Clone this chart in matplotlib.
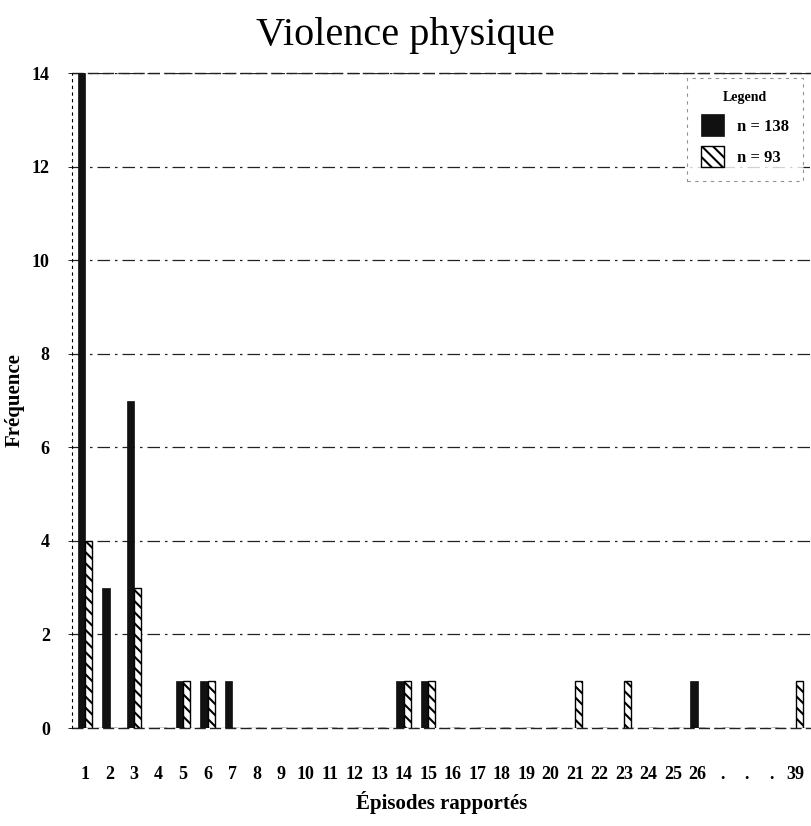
import numpy as np
import matplotlib
matplotlib.use('Agg')
import matplotlib.pyplot as plt

# x categories (episodes reported)
labels = [str(i) for i in range(1, 27)] + ['.', '.', '.', '39']
# frequencies, n = 138 (dark) and n = 93 (hatched)
freq_138 = [14, 3, 7, 0, 1, 1, 1, 0, 0, 0, 0, 0, 0, 1, 1, 0, 0, 0, 0, 0,
            0, 0, 0, 0, 0, 1, 0, 0, 0, 0]
freq_93 = [4, 0, 3, 0, 1, 1, 0, 0, 0, 0, 0, 0, 0, 1, 1, 0, 0, 0, 0, 0,
           1, 0, 1, 0, 0, 0, 0, 0, 0, 1]
series_labels = ['n = 138', 'n = 93']
yticks = [0, 2, 4, 6, 8, 10, 12, 14]

plt.rcParams['font.family'] = ['Liberation Serif', 'DejaVu Serif']
plt.rcParams['hatch.linewidth'] = 1.5

fig = plt.figure(figsize=(8.11, 8.26), dpi=100)
ax = fig.add_axes([0.0888, 0.1186, 0.9112, 0.793])

x = np.arange(len(labels))
w = 0.29
ax.bar(x - w / 2, freq_138, width=w, color='#111111', edgecolor='#111111',
       linewidth=0.5, label=series_labels[0], zorder=3)
ax.bar(x + w / 2, freq_93, width=w, color='white', edgecolor='black',
       hatch='\\\\\\', linewidth=1.0, label=series_labels[1], zorder=3)

ax.set_xlim(-0.53, 29.63)
ax.set_ylim(0, 14)
ax.set_xticks(x)
ax.set_xticklabels(labels, fontsize=13, fontweight='bold')
ax.set_yticks(yticks)
ax.set_yticklabels([str(v) for v in yticks], fontsize=13, fontweight='bold')
ax.tick_params(axis='x', length=0, pad=27)
ax.tick_params(axis='y', length=3, pad=13, width=0.6)

for s in ['top', 'right', 'bottom']:
    ax.spines[s].set_visible(False)
ax.spines['left'].set_linestyle((0, (2, 4)))
ax.spines['left'].set_linewidth(0.8)

ax.yaxis.grid(True, color='#222222', linewidth=0.9,
              linestyle=(0, (10, 4, 2, 4)), zorder=0)
ax.set_axisbelow(True)
ax.axhline(0, color='#222222', linewidth=1.0, linestyle=(0, (8, 3)), zorder=2,
           clip_on=False)
ax.axhline(14, color='#222222', linewidth=1.0, linestyle=(0, (8, 3)), zorder=2,
           clip_on=False)

fig.suptitle('Violence physique', fontsize=29, y=0.98)
ax.set_xlabel('Épisodes rapportés', fontsize=15, fontweight='bold', labelpad=6)
ax.set_ylabel('Fréquence', fontsize=15, fontweight='bold')
ax.yaxis.set_label_coords(-0.064, 0.5)

leg = ax.legend(loc='upper right', bbox_to_anchor=(1.0, 1.005), title='Legend',
                fontsize=12, title_fontproperties={'weight': 'bold', 'size': 10},
                frameon=True, fancybox=False, handlelength=1.4, handleheight=1.6,
                borderpad=0.8, labelspacing=0.6)
leg.get_frame().set_edgecolor('#777777')
leg.get_frame().set_linestyle((0, (3, 4)))
leg.get_frame().set_linewidth(0.8)
for t in leg.get_texts():
    t.set_fontweight('bold')

fig.savefig('out.png', dpi=100)
